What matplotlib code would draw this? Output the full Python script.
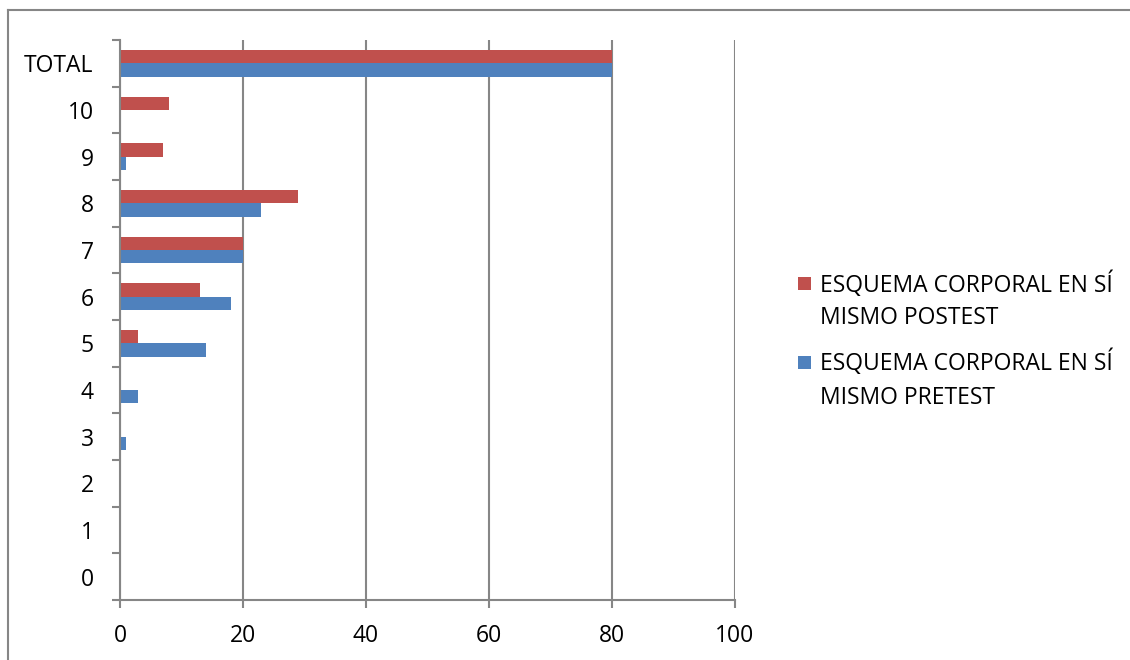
import matplotlib.pyplot as plt
from matplotlib.patches import Rectangle
from matplotlib.lines import Line2D

# Puntajes por categoria (0..10 y TOTAL)
categorias = ['0', '1', '2', '3', '4', '5', '6', '7', '8', '9', '10', 'TOTAL']
pretest = [0, 0, 0, 1, 3, 14, 18, 20, 23, 1, 0, 80]
postest = [0, 0, 0, 0, 0, 3, 13, 20, 29, 7, 8, 80]
serie_post = 'ESQUEMA CORPORAL EN SÍ\nMISMO POSTEST'
serie_pre = 'ESQUEMA CORPORAL EN SÍ\nMISMO PRETEST'

rojo = '#C0504D'
azul = '#4F81BD'
gris = '#868686'

plt.rcParams['font.family'] = ['Open Sans', 'DejaVu Sans']
W, H = 1130, 660

fig = plt.figure(figsize=(W / 100, H / 100), dpi=100)
ax = fig.add_axes([120 / W, 1 - 600 / H, 615 / W, 560 / H])

alto = 0.286
pos = list(range(len(categorias)))
ax.barh([p - alto / 2 for p in pos], pretest, height=alto, color=azul, zorder=3)
ax.barh([p + alto / 2 for p in pos], postest, height=alto, color=rojo, zorder=3)

ax.set_xlim(0, 100)
ax.set_ylim(-0.5, len(categorias) - 0.5)
ax.set_xticks([0, 20, 40, 60, 80, 100])
ax.tick_params(axis='x', direction='out', length=6, width=1.5, color=gris,
               labelsize=16.5, pad=11)
ax.grid(axis='x', color=gris, linewidth=1.5, zorder=0)

# marcas entre categorias, etiquetas centradas
ax.set_yticks([p + 0.5 for p in range(-1, len(categorias))])
ax.set_yticklabels([])
ax.set_yticks(pos, minor=True)
ax.set_yticklabels(categorias, minor=True)
ax.tick_params(axis='y', which='major', direction='out', length=6, width=1.5, color=gris)
ax.tick_params(axis='y', which='minor', length=0, labelsize=16.5, pad=19)

for lado in ['top', 'right']:
    ax.spines[lado].set_visible(False)
for lado in ['left', 'bottom']:
    ax.spines[lado].set_color(gris)
    ax.spines[lado].set_linewidth(1.5)
    ax.spines[lado].set_zorder(4)

# leyenda: cuadro alineado con la primera linea del texto
for color, texto, y in [(rojo, serie_post, 283), (azul, serie_pre, 362)]:
    fig.add_artist(Rectangle((798 / W, 1 - (y + 6.5) / H), 13 / W, 13 / H,
                             facecolor=color, edgecolor='none', transform=fig.transFigure))
    fig.text(820 / W, 1 - (y - 12) / H, texto, fontsize=16.5, va='top', ha='left',
             linespacing=1.5)

# borde del area del grafico
fig.add_artist(Line2D([8 / W, 8 / W], [0, 1 - 10 / H], color=gris, linewidth=1.5))
fig.add_artist(Line2D([8 / W, 1], [1 - 10 / H, 1 - 10 / H], color=gris, linewidth=1.5))

fig.savefig('out.png', dpi=100)
